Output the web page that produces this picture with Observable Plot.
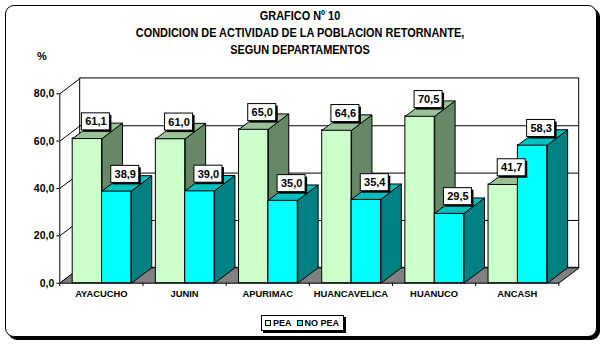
<!DOCTYPE html>
<html>
<head>
<meta charset="utf-8">
<script src="https://cdn.jsdelivr.net/npm/d3@7"></script>
<script src="https://cdn.jsdelivr.net/npm/@observablehq/plot@0.6"></script>
<style>
  html, body { margin: 0; padding: 0; background: #fff; }
  #wrap { position: relative; width: 609px; height: 349px; overflow: hidden; font-family: "Liberation Sans", Arial, sans-serif; font-weight: bold; }
  #frame { position: absolute; left: 5px; top: 5px; width: 592px; height: 332px; box-sizing: border-box; border: 1px solid #000; border-radius: 9px; box-shadow: 3px 3px 0 #000; background: #fff; }
  #chart { position: absolute; left: 0; top: 0; }
  .title { position: absolute; left: 0; width: 600px; text-align: center; font-size: 12px; line-height: 17px; transform: scaleX(0.91); transform-origin: 300px 0; color: #000; white-space: nowrap; }
  #pct { position: absolute; left: 37px; top: 50px; font-size: 11px; }
  #legend { position: absolute; left: 261px; top: 315px; height: 16px; box-sizing: border-box; border: 1px solid #000; box-shadow: 2px 2px 0 #000; background: #fff; font-size: 9px; line-height: 14px; white-space: nowrap; padding: 0 4px 0 3px; display: flex; align-items: center; }
  .sw { display: inline-block; width: 4px; height: 4px; border: 1px solid #000; margin-right: 2px; }
</style>
</head>
<body>
<div id="wrap">
  <div id="frame"></div>
  <div class="title" style="top:8px">GRAFICO Nº 10</div>
  <div class="title" style="top:25px">CONDICION DE ACTIVIDAD DE LA POBLACION RETORNANTE,</div>
  <div class="title" style="top:42px">SEGUN DEPARTAMENTOS</div>
  <div id="pct">%</div>
  <div id="chart"></div>
  <div id="legend"></div>
</div>
<script>
// ---- data ----
const categories = ["AYACUCHO", "JUNIN", "APURIMAC", "HUANCAVELICA", "HUANUCO", "ANCASH"];
const pea = [61.1, 61.0, 65.0, 64.6, 70.5, 41.7];
const noPea = [38.9, 39.0, 35.0, 35.4, 29.5, 58.3];
const seriesNames = ["PEA", "NO PEA"];
const yTicks = [0, 20, 40, 60, 80];

// ---- styling / 3D geometry (data units) ----
const frontColors = ["#CCFFCC", "#00FFFF"];
const sideColors = ["#668866", "#008080"];
const topColors = ["#99C299", "#00BFBF"];
const DX = 0.245;   // depth offset along x (category units)
const DY = 6.5;     // depth offset along y (value units)
const B0 = 0.155;   // gap before first bar in a category
const BW = 0.353;   // bar width
const YMAX = 80;
const fmt = v => v.toFixed(1).replace(".", ",");

const values = [pea, noPea];
const bars = [];
values.forEach((vals, s) => vals.forEach((v, i) => {
  const x1 = i + B0 + s * BW, x2 = x1 + BW;
  bars.push({s, i, v, x1, x2, id: s + "-" + i});
}));
const sidePts = s => bars.filter(b => b.s === s).flatMap(b => [
  {id: b.id, x: b.x2, y: 0}, {id: b.id, x: b.x2, y: b.v},
  {id: b.id, x: b.x2 + DX, y: b.v + DY}, {id: b.id, x: b.x2 + DX, y: DY},
  {id: b.id, x: b.x2, y: 0}
]);
const topPts = s => bars.filter(b => b.s === s).flatMap(b => [
  {id: b.id, x: b.x1, y: b.v}, {id: b.id, x: b.x2, y: b.v},
  {id: b.id, x: b.x2 + DX, y: b.v + DY}, {id: b.id, x: b.x1 + DX, y: b.v + DY},
  {id: b.id, x: b.x1, y: b.v}
]);
const n = categories.length;
const floorPts = [
  {x: 0, y: 0}, {x: n, y: 0}, {x: n + DX, y: DY}, {x: DX, y: DY}, {x: 0, y: 0}
];
const LW = 0.337, LH = 7.2;
const labels = bars.map(b => {
  const cx = (b.x1 + b.x2) / 2 + DX / 2 - 0.02;
  const y1 = b.v + DY / 2 + 0.2;
  return {cx, x1: cx - LW / 2, x2: cx + LW / 2, y1, y2: y1 + LH, t: fmt(b.v)};
});

const barMarks = s => [
  Plot.rect(bars.filter(b => b.s === s), {x1: "x1", x2: "x2", y1: 0, y2: "v", fill: frontColors[s], stroke: "#000", strokeWidth: 1}),
  Plot.line(sidePts(s), {x: "x", y: "y", z: "id", fill: sideColors[s], stroke: "#000", strokeWidth: 1, strokeLinejoin: "miter", strokeLinecap: "butt"}),
  Plot.line(topPts(s), {x: "x", y: "y", z: "id", fill: topColors[s], stroke: "#000", strokeWidth: 1, strokeLinejoin: "miter", strokeLinecap: "butt"})
];

const plot = Plot.plot({
  width: 609,
  height: 349,
  marginLeft: 59.3,
  marginRight: 30.3,
  marginTop: 77.9,
  marginBottom: 66.3,
  x: {type: "linear", domain: [0, n + DX], axis: null},
  y: {type: "linear", domain: [0, YMAX + DY], axis: null},
  style: {background: "transparent", fontFamily: "'Liberation Sans', Arial, sans-serif", fontWeight: "bold", color: "#000", overflow: "visible"},
  marks: [
    // back wall
    Plot.rect([0], {x1: DX, x2: n + DX, y1: DY, y2: YMAX + DY, fill: "#fff", stroke: "#000", strokeWidth: 1}),
    // back wall gridlines
    Plot.ruleY(yTicks.filter(v => v > 0 && v < YMAX), {y: v => v + DY, x1: DX, x2: n + DX, stroke: "#000", strokeWidth: 1}),
    // side wall diagonals
    Plot.link(yTicks, {x1: 0, y1: v => v, x2: DX, y2: v => v + DY, stroke: "#000", strokeWidth: 1}),
    // floor
    Plot.line(floorPts, {x: "x", y: "y", fill: "#808080", stroke: "#000", strokeWidth: 1, strokeLinejoin: "miter"}),
    // front y axis line and ticks
    Plot.ruleX([0], {y1: 0, y2: YMAX, stroke: "#000", strokeWidth: 1}),
    Plot.ruleY(yTicks, {y: v => v, x1: -0.036, x2: 0, stroke: "#000", strokeWidth: 1}),
    Plot.text(yTicks, {x: 0, y: v => v, text: fmt, dx: -5.5, textAnchor: "end", fontSize: 10.5, fontWeight: "bold", fill: "#000"}),
    // category separators
    Plot.ruleX(d3.range(n + 1), {x: d => d, y1: 0, y2: -1.4, stroke: "#000", strokeWidth: 1}),
    Plot.text(categories, {x: (d, i) => i + 0.5, y: 0, text: d => d, dy: 11, fontSize: 9.4, fontWeight: "bold", fill: "#000"}),
    // bars
    ...barMarks(0),
    ...barMarks(1),
    // value labels
    Plot.rect(labels, {x1: "x1", x2: "x2", y1: "y1", y2: "y2", fill: "#000", dx: 2, dy: 2}),
    Plot.rect(labels, {x1: "x1", x2: "x2", y1: "y1", y2: "y2", fill: "#fff", stroke: "#000", strokeWidth: 1}),
    Plot.text(labels, {x: "cx", y: d => (d.y1 + d.y2) / 2, text: "t", fontSize: 11, fontWeight: "bold", fill: "#000"})
  ]
});
document.getElementById("chart").appendChild(plot);

// legend
const lg = document.getElementById("legend");
seriesNames.forEach((name, s) => {
  const sw = document.createElement("span");
  sw.className = "sw";
  sw.style.background = frontColors[s];
  lg.appendChild(sw);
  const t = document.createElement("span");
  t.textContent = name;
  t.style.marginRight = s === 0 ? "5px" : "0";
  lg.appendChild(t);
});
</script>
</body>
</html>
